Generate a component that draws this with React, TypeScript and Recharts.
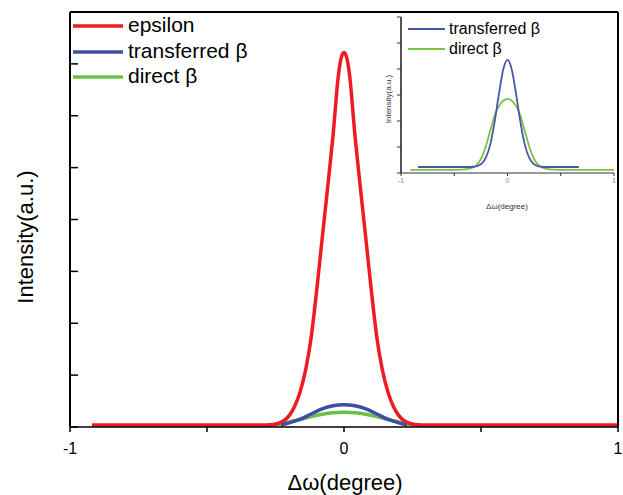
import { LineChart, Line, XAxis, YAxis, ReferenceLine } from 'recharts'

const FONT = '"Liberation Sans", Arial, sans-serif'

// main plot: Δω (degree) and intensity (a.u.)
const epsilonX = [-0.92, -0.3, -0.26, -0.24, -0.22, -0.2, -0.18, -0.16, -0.14, -0.12, -0.1, -0.08, -0.06, -0.04, -0.02, -0.01, 0, 0.01, 0.02, 0.04, 0.06, 0.08, 0.1, 0.12, 0.14, 0.16, 0.18, 0.2, 0.22, 0.24, 0.26, 0.3, 1.0]
const epsilonY = [0.04, 0.04, 0.05, 0.07, 0.12, 0.22, 0.4, 0.68, 1.1, 1.72, 2.62, 3.62, 4.6, 5.62, 6.8, 7.12, 7.22, 7.12, 6.8, 5.62, 4.6, 3.62, 2.62, 1.72, 1.1, 0.68, 0.4, 0.22, 0.12, 0.07, 0.05, 0.04, 0.04]

const transferredX = [-0.23, -0.2, -0.16, -0.12, -0.08, -0.04, 0, 0.04, 0.08, 0.12, 0.16, 0.2, 0.23]
const transferredY = [0.04, 0.08, 0.15, 0.25, 0.35, 0.41, 0.43, 0.41, 0.35, 0.25, 0.15, 0.08, 0.04]

const directX = [-0.28, -0.24, -0.2, -0.16, -0.12, -0.08, -0.04, 0, 0.04, 0.08, 0.12, 0.16, 0.2, 0.24, 0.28]
const directY = [0.03, 0.05, 0.095, 0.145, 0.2, 0.245, 0.275, 0.285, 0.275, 0.245, 0.2, 0.145, 0.095, 0.05, 0.03]

// inset plot
const insetTransferredX = [-0.84, -0.36, -0.32, -0.28, -0.24, -0.2, -0.16, -0.12, -0.08, -0.04, 0, 0.04, 0.08, 0.12, 0.16, 0.2, 0.24, 0.28, 0.32, 0.36, 0.67]
const insetTransferredY = [0.23, 0.23, 0.24, 0.27, 0.37, 0.62, 1.13, 1.99, 3.05, 3.98, 4.35, 3.98, 3.05, 1.99, 1.13, 0.62, 0.37, 0.27, 0.24, 0.23, 0.23]

const insetDirectX = [-0.91, -0.5, -0.44, -0.4, -0.36, -0.32, -0.28, -0.24, -0.2, -0.16, -0.12, -0.08, -0.04, 0, 0.04, 0.08, 0.12, 0.16, 0.2, 0.24, 0.28, 0.32, 0.36, 0.4, 0.44, 0.5, 1.0]
const insetDirectY = [0.12, 0.12, 0.13, 0.14, 0.17, 0.22, 0.35, 0.62, 1.07, 1.65, 2.22, 2.58, 2.78, 2.85, 2.78, 2.58, 2.22, 1.65, 1.07, 0.62, 0.35, 0.22, 0.17, 0.14, 0.13, 0.12, 0.12]

const xTicks = [-1, -0.5, 0, 0.5, 1]
const mainYTicks = [0, 1, 2, 3, 4, 5, 6, 7, 8]
const insetYTicks = [0, 1, 2, 3, 4, 5, 6]

const pairs = (xs: number[], ys: number[]) => xs.map((x, i) => ({ x, y: ys[i] }))

const RED = '#ec1c24'
const BLUE = '#3c4fa3'
const GREEN = '#6cc04a'
const INSET_BLUE = '#4a56a8'
const INSET_GREEN = '#78c244'

const fmt = (v: number) => (v === -1 || v === 0 || v === 1 ? String(v) : '')
const noLabel = () => <g />

export default function App() {
  return (
    <div style={{ position: 'absolute', left: 0, top: 0, width: 623, height: 495 }}>
      <div style={{ position: 'absolute', left: 0, top: 0 }}>
        <LineChart width={623} height={495} margin={{ top: 12, right: 4, bottom: 38, left: 70 }}>
          <XAxis
            type="number"
            dataKey="x"
            domain={[-1, 1]}
            ticks={xTicks}
            tickFormatter={fmt}
            height={30}
            tickSize={5}
            tickMargin={11}
            axisLine={{ stroke: '#000', strokeWidth: 1.5 }}
            tickLine={{ stroke: '#000', strokeWidth: 1.5 }}
            tick={{ fill: '#000', fontSize: 16, fontFamily: FONT }}
          />
          <XAxis xAxisId="top" orientation="top" type="number" domain={[-1, 1]} height={0} tick={false} tickLine={false} axisLine={{ stroke: '#000', strokeWidth: 2 }} />
          <YAxis
            type="number"
            domain={[0, 8]}
            ticks={mainYTicks}
            width={1}
            mirror
            tick={noLabel}
            tickSize={8}
            axisLine={{ stroke: '#000', strokeWidth: 2 }}
            tickLine={{ stroke: '#000', strokeWidth: 1.5 }}
            allowDataOverflow
          />
          <YAxis yAxisId="right" orientation="right" type="number" domain={[0, 8]} width={1} tick={false} tickLine={false} axisLine={{ stroke: '#000', strokeWidth: 2 }} />
          <ReferenceLine x={-1} stroke="#000" strokeWidth={2} ifOverflow="visible" />
          <ReferenceLine x={1} stroke="#000" strokeWidth={2} ifOverflow="visible" />
          <ReferenceLine y={8} stroke="#000" strokeWidth={2} ifOverflow="visible" />
          <Line data={pairs(directX, directY)} dataKey="y" type="monotone" stroke={GREEN} strokeWidth={3.5} dot={false} isAnimationActive={false} />
          <Line data={pairs(transferredX, transferredY)} dataKey="y" type="monotone" stroke={BLUE} strokeWidth={3.5} dot={false} isAnimationActive={false} />
          <Line data={pairs(epsilonX, epsilonY)} dataKey="y" type="monotone" stroke={RED} strokeWidth={3.5} dot={false} isAnimationActive={false} />
        </LineChart>
      </div>

      <div style={{ position: 'absolute', left: 380, top: 10 }}>
        <LineChart width={243} height={210} margin={{ top: 7, right: 9, bottom: 27, left: 20 }}>
          <XAxis
            type="number"
            dataKey="x"
            domain={[-1, 1]}
            ticks={xTicks}
            tickFormatter={fmt}
            height={20}
            tickSize={3}
            tickMargin={2}
            axisLine={{ stroke: '#333', strokeWidth: 1 }}
            tickLine={{ stroke: '#333', strokeWidth: 1 }}
            tick={{ fill: '#888', fontSize: 7, fontFamily: FONT }}
          />
          <YAxis
            type="number"
            domain={[0, 6]}
            ticks={insetYTicks}
            width={1}
            tick={noLabel}
            tickSize={4}
            axisLine={{ stroke: '#333', strokeWidth: 1.2 }}
            tickLine={{ stroke: '#333', strokeWidth: 1 }}
            allowDataOverflow
          />
          <ReferenceLine x={-1} stroke="#333" strokeWidth={1.2} ifOverflow="visible" />
          <Line data={pairs(insetDirectX, insetDirectY)} dataKey="y" type="monotone" stroke={INSET_GREEN} strokeWidth={1.8} dot={false} isAnimationActive={false} />
          <Line data={pairs(insetTransferredX, insetTransferredY)} dataKey="y" type="monotone" stroke={INSET_BLUE} strokeWidth={1.8} dot={false} isAnimationActive={false} />
        </LineChart>
      </div>

      <svg width={623} height={495} style={{ position: 'absolute', left: 0, top: 0, pointerEvents: 'none' }} fontFamily={FONT}>
        {/* main legend */}
        <line x1={73} y1={26} x2={123} y2={26} stroke={RED} strokeWidth={3.5} />
        <text x={128} y={32} fontSize={21} fill="#000">epsilon</text>
        <line x1={73} y1={52} x2={123} y2={52} stroke={BLUE} strokeWidth={3.5} />
        <text x={128} y={58} fontSize={21} fill="#000">transferred β</text>
        <line x1={73} y1={77} x2={123} y2={77} stroke={GREEN} strokeWidth={3.5} />
        <text x={128} y={83} fontSize={21} fill="#000">direct β</text>

        {/* main axis titles */}
        <text x={345} y={490} fontSize={22} textAnchor="middle" fill="#000">Δω(degree)</text>
        <text x={0} y={0} fontSize={22} textAnchor="middle" fill="#000" transform="translate(33 237) rotate(-90)">Intensity(a.u.)</text>

        {/* inset legend */}
        <line x1={408} y1={29} x2={445} y2={29} stroke={INSET_BLUE} strokeWidth={2.2} />
        <text x={449} y={34} fontSize={16} fill="#000">transferred β</text>
        <line x1={408} y1={49} x2={445} y2={49} stroke={INSET_GREEN} strokeWidth={2.2} />
        <text x={449} y={54} fontSize={16} fill="#000">direct β</text>

        {/* inset axis titles */}
        <text x={507} y={209} fontSize={8} textAnchor="middle" fill="#333">Δω(degree)</text>
        <text x={0} y={0} fontSize={8} textAnchor="middle" fill="#333" transform="translate(391 99) rotate(-90)">Intensity(a.u.)</text>
      </svg>
    </div>
  )
}
